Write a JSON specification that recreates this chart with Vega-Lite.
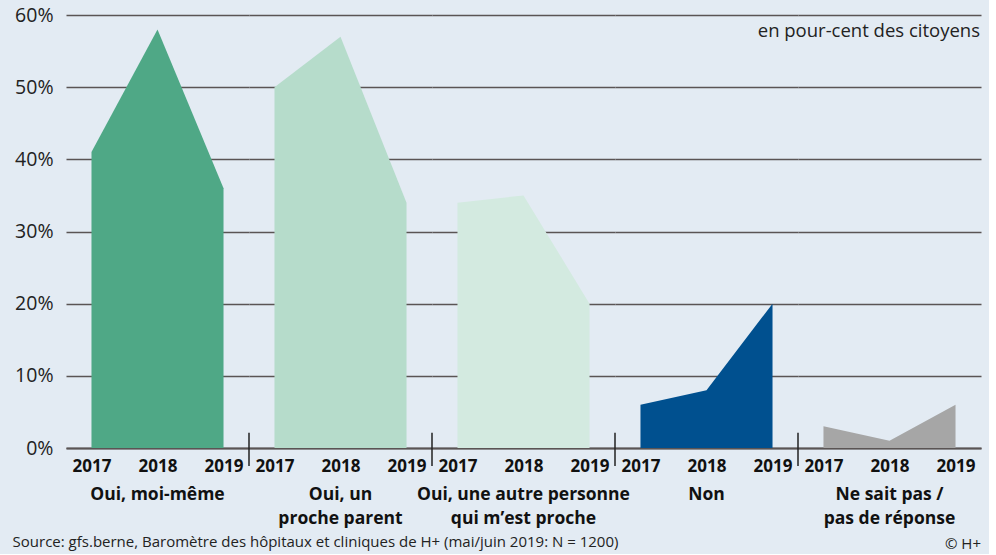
{
  "$schema": "https://vega.github.io/schema/vega-lite/v6.json",
  "background": "#e3ebf3",
  "bounds": "flush",
  "padding": {"left": 12, "top": 5, "right": 8, "bottom": 2},
  "data": {"values": [
    {"group": "Oui, moi-même", "year": 2017, "value": 41},
    {"group": "Oui, moi-même", "year": 2018, "value": 58},
    {"group": "Oui, moi-même", "year": 2019, "value": 36},
    {"group": "Oui, un|proche parent", "year": 2017, "value": 50},
    {"group": "Oui, un|proche parent", "year": 2018, "value": 57},
    {"group": "Oui, un|proche parent", "year": 2019, "value": 34},
    {"group": "Oui, une autre personne|qui m’est proche", "year": 2017, "value": 34},
    {"group": "Oui, une autre personne|qui m’est proche", "year": 2018, "value": 35},
    {"group": "Oui, une autre personne|qui m’est proche", "year": 2019, "value": 20},
    {"group": "Non", "year": 2017, "value": 6},
    {"group": "Non", "year": 2018, "value": 8},
    {"group": "Non", "year": 2019, "value": 20},
    {"group": "Ne sait pas /|pas de réponse", "year": 2017, "value": 3},
    {"group": "Ne sait pas /|pas de réponse", "year": 2018, "value": 1},
    {"group": "Ne sait pas /|pas de réponse", "year": 2019, "value": 6}
  ]},
  "title": {
    "text": "Source: gfs.berne, Baromètre des hôpitaux et cliniques de H+ (mai/juin 2019: N = 1200)",
    "orient": "bottom", "anchor": "start", "frame": "bounds", "dx": -2,
    "fontSize": 15, "fontWeight": "normal", "color": "#222", "font": "Open Sans", "offset": -17
  },
  "facet": {
    "column": {
      "field": "group", "type": "nominal",
      "sort": ["Oui, moi-même", "Oui, un|proche parent", "Oui, une autre personne|qui m’est proche", "Non", "Ne sait pas /|pas de réponse"],
      "title": "© H+",
      "header": {
        "labelOrient": "bottom", "titleOrient": "bottom",
        "labelExpr": "split(datum.value, '|')",
        "labelFontSize": 17.5, "labelFontWeight": "bold", "labelColor": "#111", "labelFont": "Open Sans",
        "labelLineHeight": 24, "labelPadding": 12,
        "titleFontSize": 15, "titleFontWeight": "normal", "titleColor": "#222", "titleFont": "Open Sans",
        "titleAnchor": "end", "titlePadding": -1
      }
    }
  },
  "spacing": 0,
  "spec": {
    "width": 183,
    "height": 433,
    "layer": [
      {
        "mark": {"type": "area", "opacity": 1},
        "encoding": {
          "x": {"field": "year", "type": "quantitative",
            "scale": {"domain": [2016.614, 2019.386], "nice": false, "zero": false},
            "axis": {"values": [2017, 2018, 2019], "format": "d", "title": null, "ticks": false, "grid": false,
              "labelFontSize": 17, "labelFontWeight": "bold", "labelColor": "#111", "labelFont": "Open Sans",
              "labelPadding": 10, "labelFlush": false, "domainColor": "#5a5454", "domainWidth": 2}},
          "y": {"field": "value", "type": "quantitative",
            "scale": {"domain": [0, 60], "nice": false},
            "axis": {"values": [0, 10, 20, 30, 40, 50, 60], "labelExpr": "datum.value + '%'", "title": null,
              "ticks": false, "domain": false, "grid": true, "gridColor": "#5a5454", "gridWidth": 1.5,
              "labelFontSize": 19.5, "labelColor": "#222", "labelFont": "Open Sans", "labelPadding": 13}},
          "color": {"field": "group", "type": "nominal", "legend": null,
            "scale": {"domain": ["Oui, moi-même", "Oui, un|proche parent", "Oui, une autre personne|qui m’est proche", "Non", "Ne sait pas /|pas de réponse"],
              "range": ["#4fa886", "#b6dccb", "#d3eae0", "#00508f", "#a6a6a6"]}}
        }
      },
      {
        "transform": [{"filter": "datum.year === 2017 && datum.group !== 'Oui, moi-même'"}],
        "mark": {"type": "rule", "color": "#222", "strokeWidth": 1.5},
        "encoding": {
          "x": {"datum": 2016.614, "type": "quantitative"},
          "y": {"datum": -2.5, "type": "quantitative"},
          "y2": {"datum": 2.1}
        }
      },
      {
        "transform": [{"filter": "datum.year === 2019 && datum.group === 'Ne sait pas /|pas de réponse'"}],
        "mark": {"type": "text", "align": "right", "baseline": "middle", "fontSize": 18.5, "font": "Open Sans", "color": "#222", "dx": -1},
        "encoding": {
          "x": {"datum": 2019.386, "type": "quantitative"},
          "y": {"datum": 57.8, "type": "quantitative"},
          "text": {"value": "en pour-cent des citoyens"}
        }
      }
    ]
  },
  "config": {"view": {"stroke": null}}
}
